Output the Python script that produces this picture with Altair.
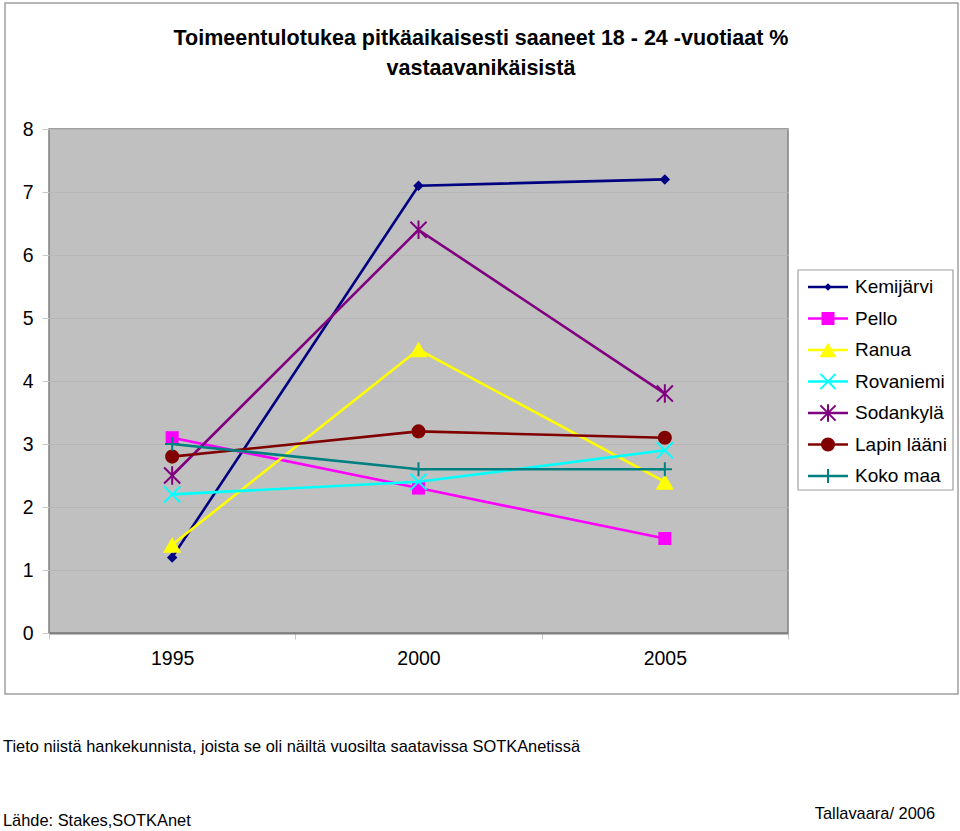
import altair as alt
import pandas as pd

years = ["1995", "2000", "2005"]
series = ["Kemijärvi", "Pello", "Ranua", "Rovaniemi", "Sodankylä", "Lapin lääni", "Koko maa"]
kemijarvi = [1.2, 7.1, 7.2]
pello = [3.1, 2.3, 1.5]
ranua = [1.4, 4.5, 2.4]
rovaniemi = [2.2, 2.4, 2.9]
sodankyla = [2.5, 6.4, 3.8]
lapin = [2.8, 3.2, 3.1]
koko = [3.0, 2.6, 2.6]
y_ticks = [0, 1, 2, 3, 4, 5, 6, 7, 8]

colors = ["#000080", "#FF00FF", "#FFFF00", "#00FFFF", "#800080", "#800000", "#008080"]
shapes = ["diamond", "square", "triangle-up",
          "M-1,-1L1,1M-1,1L1,-1",
          "M-1,-1L1,1M-1,1L1,-1M0,-1.15L0,1.15",
          "circle",
          "M0,-1L0,1M-1,0L1,0"]
sizes = [110, 170, 330, 260, 260, 200, 200]
legend_sizes = [55, 170, 290, 230, 230, 200, 200]
filled = [True, True, True, False, False, True, False]

title1 = "Toimeentulotukea pitkäaikaisesti saaneet 18 - 24 -vuotiaat %"
title2 = "vastaavanikäisistä"
note = "Tieto niistä hankekunnista, joista se oli näiltä vuosilta saatavissa SOTKAnetissä"
source = "Lähde: Stakes,SOTKAnet"
author = "Tallavaara/ 2006"

values = [kemijarvi, pello, ranua, rovaniemi, sodankyla, lapin, koko]
rows = []
for s, vals in zip(series, values):
    for yr, v in zip(years, vals):
        rows.append({"series": s, "year": yr, "value": v})
df = pd.DataFrame(rows)
leg = pd.DataFrame({"series": series})

W, H = 739, 504
FONT = "Liberation Sans"

color_enc = alt.Color("series:N", scale=alt.Scale(domain=series, range=colors), legend=None)

x_enc = alt.X("year:O", bandPosition=0.5,
              scale=alt.Scale(type="band", domain=years, paddingInner=0, paddingOuter=0),
              axis=alt.Axis(title=None, labelAngle=0, labelFont=FONT, labelFontSize=19.5,
                            labelColor="black", labelPadding=10, tickBand="extent",
                            tickColor="#C8C8C8", tickSize=6, domainColor="#808080",
                            domainWidth=2, grid=False))
y_enc = alt.Y("value:Q", scale=alt.Scale(domain=[0, 8], nice=False, zero=True),
              axis=alt.Axis(title=None, values=y_ticks, labelFont=FONT, labelFontSize=19.5,
                            labelColor="black", labelPadding=9, tickColor="#C8C8C8",
                            tickSize=7, domain=False, grid=True, gridColor="#B6B6B6",
                            gridWidth=1))

base = alt.Chart(df)
data_layers = []
for s, shp, sz, f in zip(series, shapes, sizes, filled):
    sub = base.transform_filter(alt.datum.series == s)
    data_layers.append(sub.mark_line(strokeWidth=2.6).encode(x=x_enc, y=y_enc, color=color_enc))
    data_layers.append(sub.mark_point(shape=shp, size=sz, filled=f, opacity=1,
                                      strokeWidth=1 if f else 2).encode(x=x_enc, y=y_enc, color=color_enc))
data_layer = alt.layer(*data_layers)

# decorations
frame = alt.Chart(pd.DataFrame({"a": [0]})).mark_rect(fill="transparent", stroke="#A0A0A0", strokeWidth=1.5).encode(
    x=alt.value(-44), x2=alt.value(909), y=alt.value(-126), y2=alt.value(565))
t1 = alt.Chart(pd.DataFrame({"t": [title1]})).mark_text(font=FONT, fontSize=21.5, fontWeight="bold",
    align="center", baseline="middle", color="black").encode(text="t:N", x=alt.value(432), y=alt.value(-90))
t2 = alt.Chart(pd.DataFrame({"t": [title2]})).mark_text(font=FONT, fontSize=21.5, fontWeight="bold",
    align="center", baseline="middle", color="black").encode(text="t:N", x=alt.value(432), y=alt.value(-60))
n1 = alt.Chart(pd.DataFrame({"t": [note]})).mark_text(font=FONT, fontSize=16.4,
    align="left", baseline="middle", color="black").encode(text="t:N", x=alt.value(-46), y=alt.value(618))
n2 = alt.Chart(pd.DataFrame({"t": [source]})).mark_text(font=FONT, fontSize=16.4,
    align="left", baseline="middle", color="black").encode(text="t:N", x=alt.value(-46), y=alt.value(692))
n3 = alt.Chart(pd.DataFrame({"t": [author]})).mark_text(font=FONT, fontSize=16.4,
    align="right", baseline="middle", color="black").encode(text="t:N", x=alt.value(886), y=alt.value(685))
deco = alt.layer(frame, t1, t2, n1, n2, n3)

# legend
ly = alt.Y("series:N", scale=alt.Scale(type="point", domain=series, range=[158, 347], padding=0), axis=None)
lbase = alt.Chart(leg)
lbox = alt.Chart(pd.DataFrame({"a": [0]})).mark_rect(fill="white", stroke="#A0A0A0", strokeWidth=1.2).encode(
    x=alt.value(749), x2=alt.value(904), y=alt.value(141), y2=alt.value(361))
lrule = lbase.mark_rule(strokeWidth=2.6).encode(x=alt.value(759), x2=alt.value(799), y=ly, color=color_enc)
legend_layers = [lbox, lrule]
for s, shp, sz, f in zip(series, shapes, legend_sizes, filled):
    legend_layers.append(lbase.transform_filter(alt.datum.series == s).mark_point(
        shape=shp, size=sz, filled=f, opacity=1, strokeWidth=1 if f else 2).encode(
        x=alt.value(779), y=ly, color=color_enc))
ltext = lbase.mark_text(font=FONT, fontSize=19, align="left", baseline="middle", color="black").encode(
    x=alt.value(806), y=ly, text="series:N")
legend_layers.append(ltext)
legend_layer = alt.layer(*legend_layers)

chart = alt.layer(data_layer, deco, legend_layer).resolve_scale(y="independent").properties(
    width=W, height=H,
    autosize=alt.AutoSizeParams(type="none"),
    padding={"left": 49, "top": 129, "right": 172, "bottom": 198},
    background="white",
).configure_view(fill="#C0C0C0", stroke="#808080", strokeWidth=1.5)

chart.save("out.html", embed_options={"renderer": "svg", "actions": False})
